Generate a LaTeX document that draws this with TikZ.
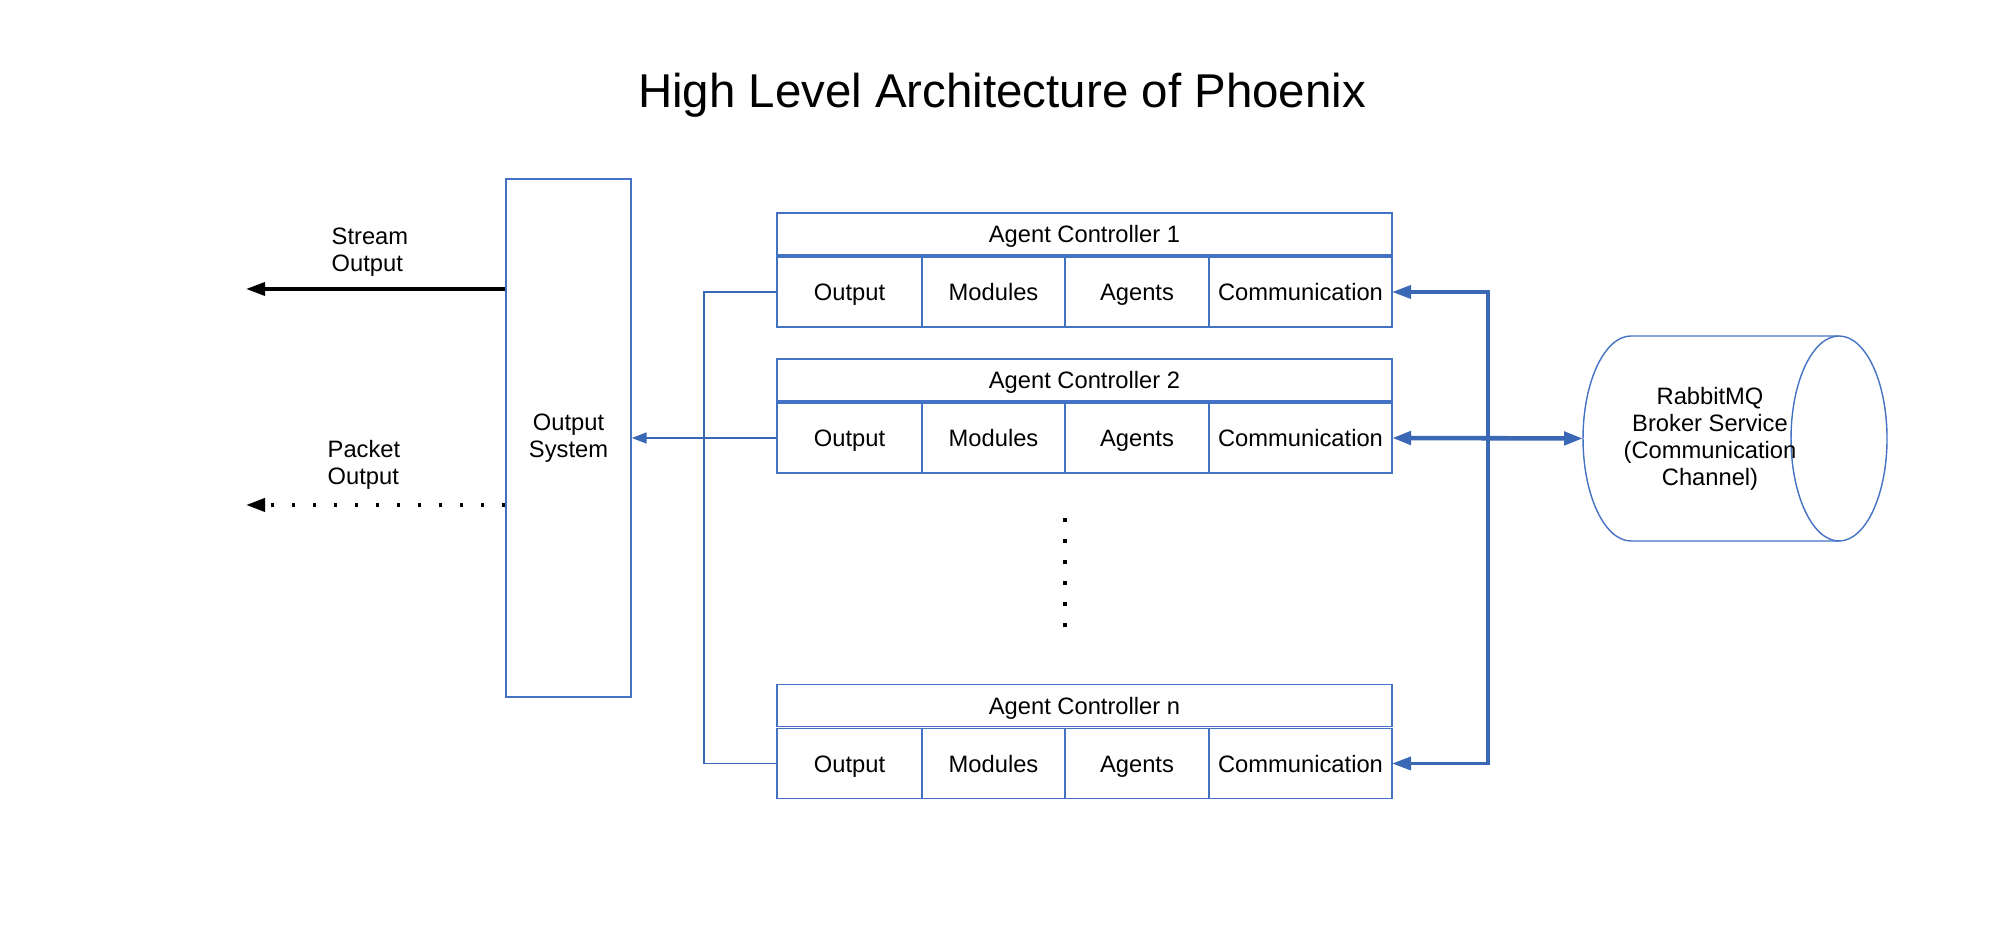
\documentclass[tikz,border=0pt]{standalone}
\usepackage{fontspec}
\setmainfont{Liberation Sans}
\usetikzlibrary{positioning,arrows.meta}
\definecolor{lineblue}{RGB}{58,104,180}
\definecolor{boxblue}{RGB}{68,114,196}
\begin{document}
\begin{tikzpicture}[>={Triangle[length=0.19cm,width=0.13cm]},
    txt/.style={inner sep=0pt,font=\fontsize{6.75pt}{7.7pt}\selectfont},
    cell/.style={txt,draw=boxblue,line width=0.4pt,outer sep=0pt,minimum height=0.70cm,text height=4.86pt,text depth=0pt},
    head/.style={cell,minimum height=0.42cm,minimum width=6.15cm},
    comm/.style={draw=lineblue,line width=1pt}]
  \useasboundingbox (0,0) rectangle (20.16,9.45);
  \node[anchor=base,font=\fontsize{13.5pt}{16pt}\selectfont] (title) at (10.02,8.37) {High Level Architecture of Phoenix};
  % output side
  \node[txt,draw=boxblue,line width=0.4pt,align=center,minimum width=1.25cm,minimum height=5.18cm] (outsys) at (5.685,5.07) {Output\\System};
  \coordinate (streamtip) at (2.46,6.56);
  \coordinate (packettip) at (2.46,4.40);
  \draw[->, line width=1pt] (outsys.west |- streamtip) -- (streamtip);
  \draw[->, line width=1.1pt, dash pattern=on 0.035cm off 0.175cm] (outsys.west |- packettip) -- (packettip);
  \node[txt,align=left,anchor=west] (streamlbl) at (3.31,6.93) {Stream\\Output};
  \node[txt,align=left,anchor=west] (packetlbl) at (3.27,4.80) {Packet\\Output};
  % agent controllers
  \foreach \i/\y in {1/6.53,2/5.07,n/1.815}{
    \node[cell,minimum width=1.45cm,anchor=west] (\i-out) at (7.77,\y) {Output};
    \node[cell,minimum width=1.43cm,right=0pt of \i-out] (\i-mod) {Modules};
    \node[cell,minimum width=1.44cm,right=0pt of \i-mod] (\i-agt) {Agents};
    \node[cell,minimum width=1.83cm,right=0pt of \i-agt] (\i-com) {Communication};
    \node[head,above right=0.02cm and 0pt of \i-out.north west] (\i-head) {Agent Controller \i};
  }
  \draw[line width=0.035cm, dash pattern=on 0.035cm off 0.175cm] (10.65,4.265) -- (10.65,3.18);
  \coordinate (obus) at (7.04,0);
  \draw[lineblue, line width=0.5pt] (1-out.west) -- (obus |- 1-out.west) -- (obus |- n-out.west) -- (n-out.west);
  \draw[lineblue, line width=0.5pt, -{Triangle[length=0.15cm,width=0.11cm]}] (2-out.west) -- (outsys.east);
  % broker
  \draw[boxblue, line width=0.4pt] (18.39,6.09) arc[start angle=90,end angle=-270,x radius=0.48cm,y radius=1.025cm];
  \draw[boxblue, line width=0.4pt] (18.39,6.09) -- (16.31,6.09) arc[start angle=90,end angle=270,x radius=0.48cm,y radius=1.025cm] -- (18.39,4.04);
  \coordinate (mqwest) at (15.83,5.065);
  \node[txt,align=center] (mq) at (17.10,5.06) {RabbitMQ\\Broker Service\\(Communication\\Channel)};
  \coordinate (cbus) at (14.88,0);
  \draw[comm,<->] (1-com.east) -- (cbus |- 1-com.east) -- (cbus |- n-com.east) -- (n-com.east);
  \draw[comm,<->,line width=1.3pt] (2-com.east) -- (mqwest);
\end{tikzpicture}
\end{document}
